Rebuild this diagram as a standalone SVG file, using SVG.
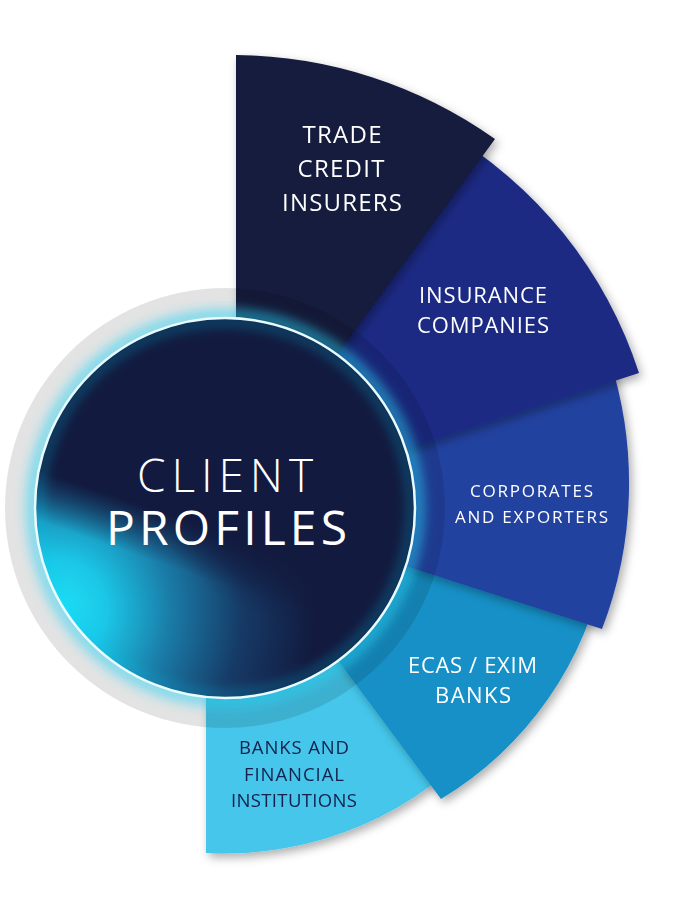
<svg xmlns="http://www.w3.org/2000/svg" width="700" height="900" viewBox="0 0 700 900">
<defs>
<style>
.lbl{font-family:"Open Sans","Liberation Sans",sans-serif;font-weight:400;fill:#ffffff;text-anchor:middle}
.dk{fill:#15224d}
.ctr{font-family:"Open Sans","Liberation Sans",sans-serif;fill:#ffffff;text-anchor:middle}
.seg{filter:url(#sh)}
</style>
<filter id="sh" x="-20%" y="-20%" width="140%" height="140%">
<feDropShadow dx="3" dy="4" stdDeviation="5" flood-color="#000" flood-opacity="0.32"/>
</filter>
<filter id="glow" x="-30%" y="-30%" width="160%" height="160%">
<feGaussianBlur stdDeviation="6"/>
</filter>
<radialGradient id="cg" cx="55" cy="610" r="260" gradientUnits="userSpaceOnUse">
<stop offset="0" stop-color="#20e3f8"/>
<stop offset="0.2" stop-color="#1bc6e6"/>
<stop offset="0.45" stop-color="#1a7aa6"/>
<stop offset="0.72" stop-color="#163a66"/>
<stop offset="1" stop-color="#121a3f"/>
</radialGradient>
<linearGradient id="cov" x1="92" y1="488" x2="76" y2="534" gradientUnits="userSpaceOnUse">
<stop offset="0" stop-color="#121a3f" stop-opacity="1"/>
<stop offset="1" stop-color="#121a3f" stop-opacity="0"/>
</linearGradient>
<radialGradient id="cv2" cx="330" cy="430" r="200" gradientUnits="userSpaceOnUse">
<stop offset="0" stop-color="#121a3f" stop-opacity="1"/>
<stop offset="0.6" stop-color="#121a3f" stop-opacity="0.8"/>
<stop offset="1" stop-color="#121a3f" stop-opacity="0"/>
</radialGradient>
</defs>
<rect width="700" height="900" fill="#ffffff"/>

<g id="seg5" class="seg">
<path d="M206 853 A346 346 0 0 0 490 730 L225 508 L206 508 Z" fill="#45c6ea"/>
<text class="lbl dk" font-size="18.5" x="294" y="754" textLength="110">BANKS AND</text>
<text class="lbl dk" font-size="18.5" x="294" y="781" textLength="100">FINANCIAL</text>
<text class="lbl dk" font-size="18.5" x="294" y="807" textLength="126">INSTITUTIONS</text>
</g>

<g id="seg4" class="seg">
<path d="M225 508 L605 563 A350 350 0 0 1 441 799 Z" fill="#1990c6"/>
<text class="lbl" font-size="22" x="472.5" y="673" textLength="129">ECAS / EXIM</text>
<text class="lbl" font-size="22" x="473" y="703" textLength="76">BANKS</text>
</g>

<g id="seg3" class="seg">
<path d="M225 508 L610 360 A407 407 0 0 1 602 629 Z" fill="#2442a0"/>
<text class="lbl" font-size="17" x="531.5" y="497" textLength="123">CORPORATES</text>
<text class="lbl" font-size="17" x="531.5" y="523" textLength="153">AND EXPORTERS</text>
</g>

<g id="seg2" class="seg">
<path d="M225 508 L443 130 A436 436 0 0 1 639 373 Z" fill="#1b2c84"/>
<text class="lbl" font-size="22" x="483" y="303" textLength="128">INSURANCE</text>
<text class="lbl" font-size="22" x="483" y="333" textLength="132">COMPANIES</text>
</g>

<g id="seg1" class="seg">
<path d="M236 55 A455 455 0 0 1 495 139 L225 508 L236 508 Z" fill="#141a3d"/>
<text class="lbl" font-size="24" x="342" y="143" textLength="79">TRADE</text>
<text class="lbl" font-size="24" x="341" y="177" textLength="87">CREDIT</text>
<text class="lbl" font-size="24" x="342" y="211" textLength="120">INSURERS</text>
</g>

<g id="center">
<circle cx="225" cy="508" r="220" fill="#000000" fill-opacity="0.11"/>
<circle cx="225" cy="508" r="194" fill="none" stroke="#2fd3f5" stroke-width="10" stroke-opacity="0.6" filter="url(#glow)"/>
<circle cx="225" cy="508" r="190" fill="url(#cg)"/>
<circle cx="225" cy="508" r="190" fill="url(#cov)"/>
<circle cx="225" cy="508" r="190" fill="url(#cv2)"/>
<circle cx="225" cy="508" r="186" fill="none" stroke="#1ec8ee" stroke-width="6" stroke-opacity="0.4" filter="url(#glow)"/>
<circle cx="225" cy="508" r="190" fill="none" stroke="#e9fbff" stroke-width="2.5"/>
<text class="ctr" font-weight="300" font-size="46" x="225" y="492" textLength="176">CLIENT</text>
<text class="ctr" font-weight="400" font-size="48" x="226.5" y="545" textLength="241">PROFILES</text>
</g>
</svg>
